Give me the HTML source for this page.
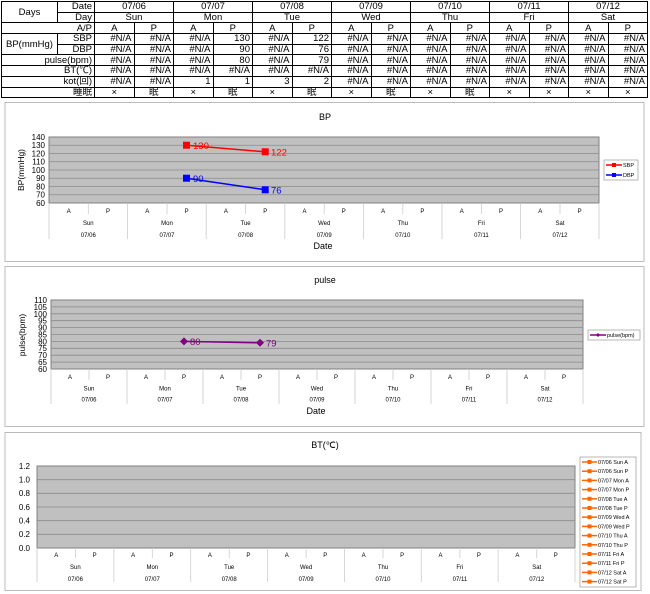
<!DOCTYPE html>
<html><head><meta charset="utf-8">
<style>
body{margin:0;width:650px;height:594px;background:#fff;position:relative;overflow:hidden;font-family:"Liberation Sans","Noto Sans CJK JP",sans-serif;}
table{position:absolute;left:1px;top:1px;border-collapse:collapse;table-layout:fixed;font-size:9.5px;}
td{border:1px solid #000;padding:0 2px;height:9.7px;line-height:9px;white-space:nowrap;overflow:hidden;}
.c{text-align:center}.r{text-align:right}
svg{position:absolute;left:0;top:0}
</style></head><body>
<table>
<colgroup><col style="width:56px"><col style="width:37px">
<col style="width:39.5px"><col style="width:39.5px"><col style="width:39.5px"><col style="width:39.5px"><col style="width:39.5px"><col style="width:39.5px"><col style="width:39.5px"><col style="width:39.5px"><col style="width:39.5px"><col style="width:39.5px"><col style="width:39.5px"><col style="width:39.5px"><col style="width:39.5px"><col style="width:39.5px"></colgroup>
<tr><td rowspan="2" class="c">Days</td><td class="r">Date</td><td colspan="2" class="c">07/06</td><td colspan="2" class="c">07/07</td><td colspan="2" class="c">07/08</td><td colspan="2" class="c">07/09</td><td colspan="2" class="c">07/10</td><td colspan="2" class="c">07/11</td><td colspan="2" class="c">07/12</td></tr>
<tr><td class="r">Day</td><td colspan="2" class="c">Sun</td><td colspan="2" class="c">Mon</td><td colspan="2" class="c">Tue</td><td colspan="2" class="c">Wed</td><td colspan="2" class="c">Thu</td><td colspan="2" class="c">Fri</td><td colspan="2" class="c">Sat</td></tr>
<tr><td colspan="2" class="r">A/P</td><td class="c">A</td><td class="c">P</td><td class="c">A</td><td class="c">P</td><td class="c">A</td><td class="c">P</td><td class="c">A</td><td class="c">P</td><td class="c">A</td><td class="c">P</td><td class="c">A</td><td class="c">P</td><td class="c">A</td><td class="c">P</td></tr>
<tr><td rowspan="2" class="c">BP(mmHg)</td><td class="r">SBP</td><td class="r">#N/A</td><td class="r">#N/A</td><td class="r">#N/A</td><td class="r">130</td><td class="r">#N/A</td><td class="r">122</td><td class="r">#N/A</td><td class="r">#N/A</td><td class="r">#N/A</td><td class="r">#N/A</td><td class="r">#N/A</td><td class="r">#N/A</td><td class="r">#N/A</td><td class="r">#N/A</td></tr>
<tr><td class="r">DBP</td><td class="r">#N/A</td><td class="r">#N/A</td><td class="r">#N/A</td><td class="r">90</td><td class="r">#N/A</td><td class="r">76</td><td class="r">#N/A</td><td class="r">#N/A</td><td class="r">#N/A</td><td class="r">#N/A</td><td class="r">#N/A</td><td class="r">#N/A</td><td class="r">#N/A</td><td class="r">#N/A</td></tr>
<tr><td colspan="2" class="r">pulse(bpm)</td><td class="r">#N/A</td><td class="r">#N/A</td><td class="r">#N/A</td><td class="r">80</td><td class="r">#N/A</td><td class="r">79</td><td class="r">#N/A</td><td class="r">#N/A</td><td class="r">#N/A</td><td class="r">#N/A</td><td class="r">#N/A</td><td class="r">#N/A</td><td class="r">#N/A</td><td class="r">#N/A</td></tr>
<tr><td colspan="2" class="r">BT(℃)</td><td class="r">#N/A</td><td class="r">#N/A</td><td class="r">#N/A</td><td class="r">#N/A</td><td class="r">#N/A</td><td class="r">#N/A</td><td class="r">#N/A</td><td class="r">#N/A</td><td class="r">#N/A</td><td class="r">#N/A</td><td class="r">#N/A</td><td class="r">#N/A</td><td class="r">#N/A</td><td class="r">#N/A</td></tr>
<tr><td colspan="2" class="r">kot(回)</td><td class="r">#N/A</td><td class="r">#N/A</td><td class="r">1</td><td class="r">1</td><td class="r">3</td><td class="r">2</td><td class="r">#N/A</td><td class="r">#N/A</td><td class="r">#N/A</td><td class="r">#N/A</td><td class="r">#N/A</td><td class="r">#N/A</td><td class="r">#N/A</td><td class="r">#N/A</td></tr>
<tr><td colspan="2" class="r">睡眠</td><td class="c">×</td><td class="c">眠</td><td class="c">×</td><td class="c">眠</td><td class="c">×</td><td class="c">眠</td><td class="c">×</td><td class="c">眠</td><td class="c">×</td><td class="c">眠</td><td class="c">×</td><td class="c">×</td><td class="c">×</td><td class="c">×</td></tr>
</table>

<svg width="650" height="594" font-family="Liberation Sans, sans-serif">
<!-- BP chart -->
<rect x="5" y="102.5" width="639" height="159" fill="#fff" stroke="#bbb"/>
<text x="325" y="120" font-size="9" text-anchor="middle">BP</text>
<rect x="49" y="137" width="550" height="66" fill="#c0c0c0" stroke="#808080"/>
<g stroke="#8a8a8a" stroke-width="0.8">
<line x1="49" x2="599" y1="145.25" y2="145.25"/><line x1="49" x2="599" y1="153.5" y2="153.5"/><line x1="49" x2="599" y1="161.75" y2="161.75"/><line x1="49" x2="599" y1="170" y2="170"/><line x1="49" x2="599" y1="178.25" y2="178.25"/><line x1="49" x2="599" y1="186.5" y2="186.5"/><line x1="49" x2="599" y1="194.75" y2="194.75"/>
</g>
<g font-size="8" text-anchor="end">
<text x="45" y="140">140</text><text x="45" y="148">130</text><text x="45" y="156.5">120</text><text x="45" y="164.5">110</text><text x="45" y="173">100</text><text x="45" y="181">90</text><text x="45" y="189.5">80</text><text x="45" y="197.5">70</text><text x="45" y="206">60</text>
</g>
<text transform="translate(24,170) rotate(-90)" font-size="8.5" text-anchor="middle">BP(mmHg)</text>
<g stroke="#ccc" stroke-width="0.8">
<line x1="49" x2="49" y1="203" y2="239"/><line x1="127.6" x2="127.6" y1="203" y2="239"/><line x1="206.2" x2="206.2" y1="203" y2="239"/><line x1="284.8" x2="284.8" y1="203" y2="239"/><line x1="363.4" x2="363.4" y1="203" y2="239"/><line x1="442" x2="442" y1="203" y2="239"/><line x1="520.6" x2="520.6" y1="203" y2="239"/><line x1="599" x2="599" y1="203" y2="239"/>
<line x1="88.3" x2="88.3" y1="203" y2="214"/><line x1="167" x2="167" y1="203" y2="214"/><line x1="245.6" x2="245.6" y1="203" y2="214"/><line x1="324.2" x2="324.2" y1="203" y2="214"/><line x1="402.8" x2="402.8" y1="203" y2="214"/><line x1="481.4" x2="481.4" y1="203" y2="214"/><line x1="560" x2="560" y1="203" y2="214"/>
</g>
<g font-size="6" text-anchor="middle">
<text x="68.7" y="213">A</text><text x="108" y="213">P</text><text x="147.3" y="213">A</text><text x="186.6" y="213">P</text><text x="225.9" y="213">A</text><text x="265.2" y="213">P</text><text x="304.5" y="213">A</text><text x="343.8" y="213">P</text><text x="383.1" y="213">A</text><text x="422.4" y="213">P</text><text x="461.7" y="213">A</text><text x="501" y="213">P</text><text x="540.3" y="213">A</text><text x="579.6" y="213">P</text>
<text x="88.3" y="225">Sun</text><text x="167" y="225">Mon</text><text x="245.6" y="225">Tue</text><text x="324.2" y="225">Wed</text><text x="402.8" y="225">Thu</text><text x="481.4" y="225">Fri</text><text x="560" y="225">Sat</text>
<text x="88.3" y="237">07/06</text><text x="167" y="237">07/07</text><text x="245.6" y="237">07/08</text><text x="324.2" y="237">07/09</text><text x="402.8" y="237">07/10</text><text x="481.4" y="237">07/11</text><text x="560" y="237">07/12</text>
</g>
<text x="323" y="249" font-size="9" text-anchor="middle">Date</text>
<line x1="186.6" y1="145.25" x2="265.2" y2="151.85" stroke="#f00" stroke-width="1.5"/>
<rect x="183" y="141.7" width="7" height="7" fill="#f00"/><rect x="261.7" y="148.3" width="7" height="7" fill="#f00"/>
<line x1="186.6" y1="178.25" x2="265.2" y2="189.8" stroke="#00f" stroke-width="1.5"/>
<rect x="183" y="174.7" width="7" height="7" fill="#00f"/><rect x="261.7" y="186.3" width="7" height="7" fill="#00f"/>
<g font-size="9.5"><text x="193" y="149" fill="#f00">130</text><text x="271" y="155.5" fill="#f00">122</text><text x="193" y="182" fill="#00f">90</text><text x="271" y="193.5" fill="#00f">76</text></g>
<rect x="604" y="160" width="34" height="20" fill="#fff" stroke="#999" stroke-width="0.7"/>
<line x1="606" x2="622" y1="165" y2="165" stroke="#f00" stroke-width="1.5"/><rect x="612" y="163" width="4" height="4" fill="#f00"/>
<line x1="606" x2="622" y1="175" y2="175" stroke="#00f" stroke-width="1.5"/><rect x="612" y="173" width="4" height="4" fill="#00f"/>
<text x="623" y="167" font-size="5.5">SBP</text><text x="623" y="177" font-size="5.5">DBP</text>

<!-- pulse chart -->
<rect x="5" y="266.5" width="639" height="160" fill="#fff" stroke="#bbb"/>
<text x="325" y="283" font-size="9" text-anchor="middle">pulse</text>
<rect x="51" y="300" width="532" height="69" fill="#c0c0c0" stroke="#808080"/>
<g stroke="#8a8a8a" stroke-width="0.8">
<line x1="51" x2="583" y1="306.9" y2="306.9"/><line x1="51" x2="583" y1="313.8" y2="313.8"/><line x1="51" x2="583" y1="320.7" y2="320.7"/><line x1="51" x2="583" y1="327.6" y2="327.6"/><line x1="51" x2="583" y1="334.5" y2="334.5"/><line x1="51" x2="583" y1="341.4" y2="341.4"/><line x1="51" x2="583" y1="348.3" y2="348.3"/><line x1="51" x2="583" y1="355.2" y2="355.2"/><line x1="51" x2="583" y1="362.1" y2="362.1"/>
</g>
<g font-size="8" text-anchor="end">
<text x="47" y="303">110</text><text x="47" y="310">105</text><text x="47" y="317">100</text><text x="47" y="323.5">95</text><text x="47" y="330.5">90</text><text x="47" y="337.5">85</text><text x="47" y="344.5">80</text><text x="47" y="351">75</text><text x="47" y="358">70</text><text x="47" y="365">65</text><text x="47" y="372">60</text>
</g>
<text transform="translate(25,335) rotate(-90)" font-size="8.5" text-anchor="middle">pulse(bpm)</text>
<g stroke="#ccc" stroke-width="0.8">
<line x1="51" x2="51" y1="369" y2="404"/><line x1="127" x2="127" y1="369" y2="404"/><line x1="203" x2="203" y1="369" y2="404"/><line x1="279" x2="279" y1="369" y2="404"/><line x1="355" x2="355" y1="369" y2="404"/><line x1="431" x2="431" y1="369" y2="404"/><line x1="507" x2="507" y1="369" y2="404"/><line x1="583" x2="583" y1="369" y2="404"/>
<line x1="89" x2="89" y1="369" y2="380"/><line x1="165" x2="165" y1="369" y2="380"/><line x1="241" x2="241" y1="369" y2="380"/><line x1="317" x2="317" y1="369" y2="380"/><line x1="393" x2="393" y1="369" y2="380"/><line x1="469" x2="469" y1="369" y2="380"/><line x1="545" x2="545" y1="369" y2="380"/>
</g>
<g font-size="6" text-anchor="middle">
<text x="70" y="379">A</text><text x="108" y="379">P</text><text x="146" y="379">A</text><text x="184" y="379">P</text><text x="222" y="379">A</text><text x="260" y="379">P</text><text x="298" y="379">A</text><text x="336" y="379">P</text><text x="374" y="379">A</text><text x="412" y="379">P</text><text x="450" y="379">A</text><text x="488" y="379">P</text><text x="526" y="379">A</text><text x="564" y="379">P</text>
<text x="89" y="390.5">Sun</text><text x="165" y="390.5">Mon</text><text x="241" y="390.5">Tue</text><text x="317" y="390.5">Wed</text><text x="393" y="390.5">Thu</text><text x="469" y="390.5">Fri</text><text x="545" y="390.5">Sat</text>
<text x="89" y="401.5">07/06</text><text x="165" y="401.5">07/07</text><text x="241" y="401.5">07/08</text><text x="317" y="401.5">07/09</text><text x="393" y="401.5">07/10</text><text x="469" y="401.5">07/11</text><text x="545" y="401.5">07/12</text>
</g>
<text x="316" y="414" font-size="9" text-anchor="middle">Date</text>
<line x1="184" y1="341.4" x2="260" y2="342.8" stroke="#800080" stroke-width="1.5"/>
<path d="M184 337.4 L188 341.4 L184 345.4 L180 341.4Z" fill="#800080"/><path d="M260 338.8 L264 342.8 L260 346.8 L256 342.8Z" fill="#800080"/>
<g font-size="9.5" fill="#800080"><text x="190" y="345">80</text><text x="266" y="346.5">79</text></g>
<rect x="588" y="330" width="52" height="10" fill="#fff" stroke="#999" stroke-width="0.7"/>
<line x1="590" x2="606" y1="335" y2="335" stroke="#800080" stroke-width="1.5"/><path d="M598 333 L600 335 L598 337 L596 335Z" fill="#800080"/>
<text x="607" y="337" font-size="5.5">pulse(bpm)</text>

<!-- BT chart -->
<rect x="5" y="432.5" width="636" height="158" fill="#fff" stroke="#bbb"/>
<text x="325" y="448" font-size="9" text-anchor="middle">BT(℃)</text>
<rect x="37" y="466" width="538" height="82" fill="#c0c0c0" stroke="#808080"/>
<g stroke="#8a8a8a" stroke-width="0.8">
<line x1="37" x2="575" y1="479.67" y2="479.67"/><line x1="37" x2="575" y1="493.33" y2="493.33"/><line x1="37" x2="575" y1="507" y2="507"/><line x1="37" x2="575" y1="520.67" y2="520.67"/><line x1="37" x2="575" y1="534.33" y2="534.33"/>
</g>
<g font-size="8" text-anchor="end">
<text x="30" y="469">1.2</text><text x="30" y="482.5">1.0</text><text x="30" y="496">0.8</text><text x="30" y="510">0.6</text><text x="30" y="523.5">0.4</text><text x="30" y="537">0.2</text><text x="30" y="551">0.0</text>
</g>
<g stroke="#ccc" stroke-width="0.8">
<line x1="37" x2="37" y1="548" y2="582"/><line x1="113.9" x2="113.9" y1="548" y2="582"/><line x1="190.7" x2="190.7" y1="548" y2="582"/><line x1="267.6" x2="267.6" y1="548" y2="582"/><line x1="344.4" x2="344.4" y1="548" y2="582"/><line x1="421.3" x2="421.3" y1="548" y2="582"/><line x1="498.1" x2="498.1" y1="548" y2="582"/><line x1="575" x2="575" y1="548" y2="582"/>
<line x1="75.4" x2="75.4" y1="548" y2="558"/><line x1="152.3" x2="152.3" y1="548" y2="558"/><line x1="229.2" x2="229.2" y1="548" y2="558"/><line x1="306.1" x2="306.1" y1="548" y2="558"/><line x1="383" x2="383" y1="548" y2="558"/><line x1="459.9" x2="459.9" y1="548" y2="558"/><line x1="536.7" x2="536.7" y1="548" y2="558"/>
</g>
<g font-size="6" text-anchor="middle">
<text x="56.2" y="557">A</text><text x="94.6" y="557">P</text><text x="133.1" y="557">A</text><text x="171.5" y="557">P</text><text x="209.9" y="557">A</text><text x="248.4" y="557">P</text><text x="286.8" y="557">A</text><text x="325.2" y="557">P</text><text x="363.6" y="557">A</text><text x="402.1" y="557">P</text><text x="440.5" y="557">A</text><text x="478.9" y="557">P</text><text x="517.4" y="557">A</text><text x="555.8" y="557">P</text>
<text x="75.4" y="569">Sun</text><text x="152.3" y="569">Mon</text><text x="229.2" y="569">Tue</text><text x="306.1" y="569">Wed</text><text x="383" y="569">Thu</text><text x="459.9" y="569">Fri</text><text x="536.7" y="569">Sat</text>
<text x="75.4" y="581">07/06</text><text x="152.3" y="581">07/07</text><text x="229.2" y="581">07/08</text><text x="306.1" y="581">07/09</text><text x="383" y="581">07/10</text><text x="459.9" y="581">07/11</text><text x="536.7" y="581">07/12</text>
</g>
<rect x="580" y="457" width="56" height="130" fill="#fff" stroke="#999" stroke-width="0.7"/>
<g stroke="#ff6600" stroke-width="1.5">
<line x1="582" x2="597" y1="462" y2="462"/><line x1="582" x2="597" y1="471.2" y2="471.2"/><line x1="582" x2="597" y1="480.4" y2="480.4"/><line x1="582" x2="597" y1="489.6" y2="489.6"/><line x1="582" x2="597" y1="498.8" y2="498.8"/><line x1="582" x2="597" y1="508" y2="508"/><line x1="582" x2="597" y1="517.2" y2="517.2"/><line x1="582" x2="597" y1="526.4" y2="526.4"/><line x1="582" x2="597" y1="535.6" y2="535.6"/><line x1="582" x2="597" y1="544.8" y2="544.8"/><line x1="582" x2="597" y1="554" y2="554"/><line x1="582" x2="597" y1="563.2" y2="563.2"/><line x1="582" x2="597" y1="572.4" y2="572.4"/><line x1="582" x2="597" y1="581.6" y2="581.6"/>
</g>
<g fill="#ff6600">
<rect x="587.5" y="460" width="4" height="4"/><rect x="587.5" y="469.2" width="4" height="4"/><rect x="587.5" y="478.4" width="4" height="4"/><rect x="587.5" y="487.6" width="4" height="4"/><rect x="587.5" y="496.8" width="4" height="4"/><rect x="587.5" y="506" width="4" height="4"/><rect x="587.5" y="515.2" width="4" height="4"/><rect x="587.5" y="524.4" width="4" height="4"/><rect x="587.5" y="533.6" width="4" height="4"/><rect x="587.5" y="542.8" width="4" height="4"/><rect x="587.5" y="552" width="4" height="4"/><rect x="587.5" y="561.2" width="4" height="4"/><rect x="587.5" y="570.4" width="4" height="4"/><rect x="587.5" y="579.6" width="4" height="4"/>
</g>
<g font-size="5.5">
<text x="598" y="464">07/06 Sun A</text><text x="598" y="473.2">07/06 Sun P</text><text x="598" y="482.4">07/07 Mon A</text><text x="598" y="491.6">07/07 Mon P</text><text x="598" y="500.8">07/08 Tue A</text><text x="598" y="510">07/08 Tue P</text><text x="598" y="519.2">07/09 Wed A</text><text x="598" y="528.4">07/09 Wed P</text><text x="598" y="537.6">07/10 Thu A</text><text x="598" y="546.8">07/10 Thu P</text><text x="598" y="556">07/11 Fri A</text><text x="598" y="565.2">07/11 Fri P</text><text x="598" y="574.4">07/12 Sat A</text><text x="598" y="583.6">07/12 Sat P</text>
</g>
</svg>
</body></html>
